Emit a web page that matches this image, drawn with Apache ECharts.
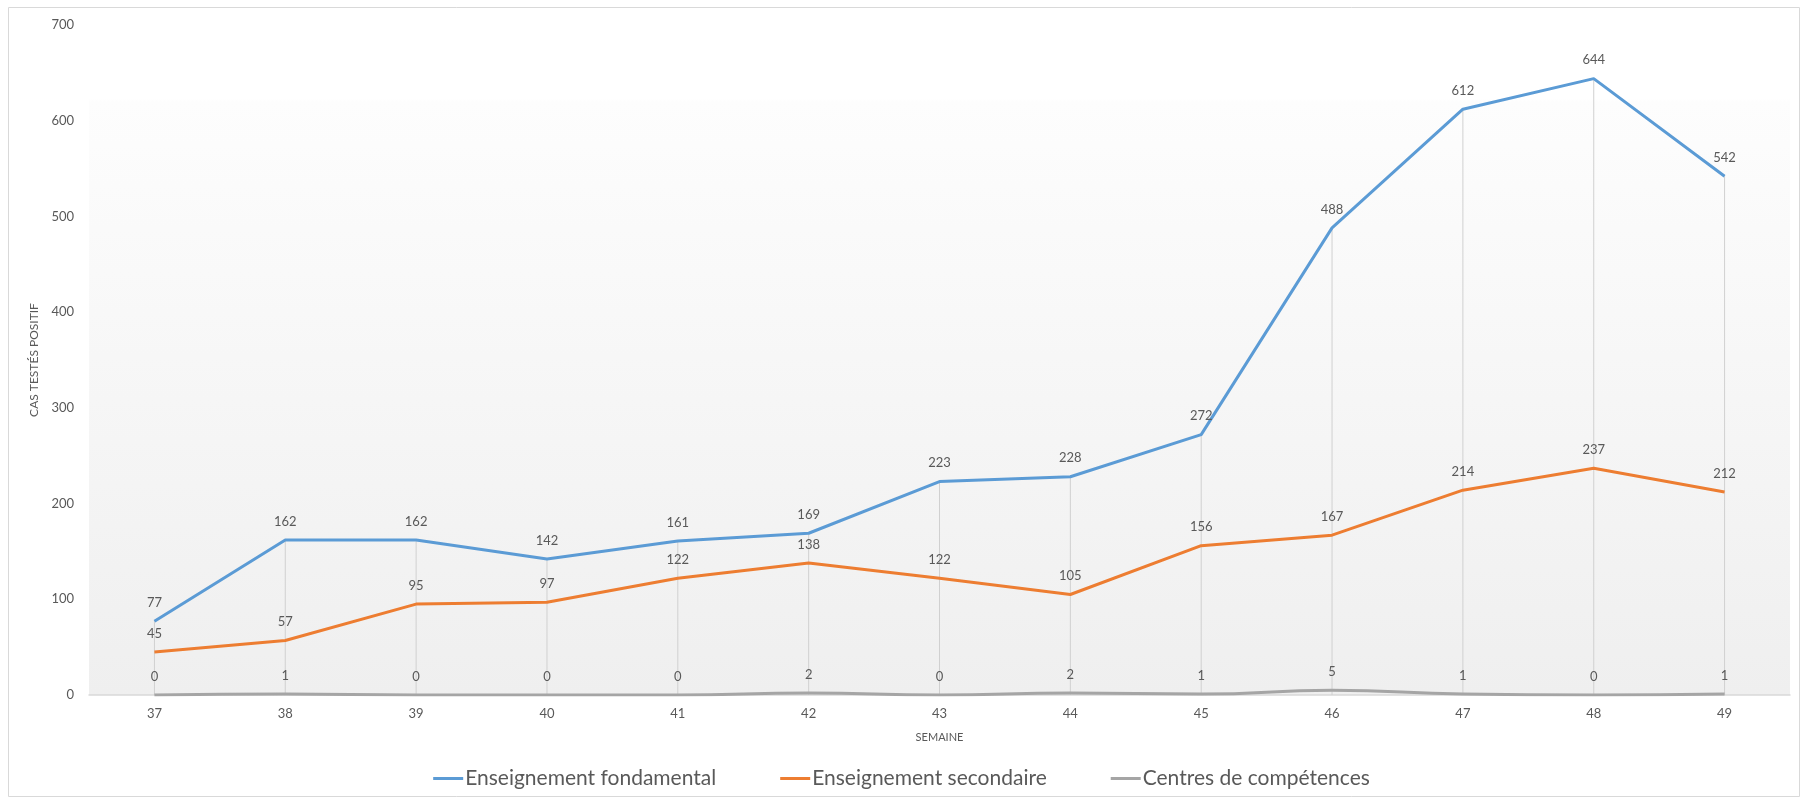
<!DOCTYPE html>
<html>
<head>
<meta charset="utf-8">
<script src="https://cdn.jsdelivr.net/npm/echarts@6/dist/echarts.min.js"></script>
<style>
  html, body { margin: 0; padding: 0; background: #fff; }
  #chart { width: 1803px; height: 799px; }
</style>
</head>
<body>
<div id="chart"></div>
<script>
// semaines
var weeks = ['37', '38', '39', '40', '41', '42', '43', '44', '45', '46', '47', '48', '49']
var fondamental = [77, 162, 162, 142, 161, 169, 223, 228, 272, 488, 612, 644, 542]
var secondaire = [45, 57, 95, 97, 122, 138, 122, 105, 156, 167, 214, 237, 212]
var competences = [0, 1, 0, 0, 0, 2, 0, 2, 1, 5, 1, 0, 1]

// lignes de projection: du point le plus haut jusqu'à l'axe
var dropLines = weeks.map(function (w, i) {
    return Math.max(fondamental[i], secondaire[i], competences[i])
})

var font = 'Lato'
var textColor = '#595959'

var chart = echarts.init(document.getElementById('chart'))

function lineSerie(name, data, color, smooth) {
    return {
        name: name,
        type: 'line',
        data: data,
        smooth: smooth,
        symbol: 'circle',
        symbolSize: 0,
        showAllSymbol: true,
        z: 3,
        lineStyle: { color: color, width: 3 },
        itemStyle: { color: color },
        label: {
            show: true,
            position: 'top',
            distance: 12,
            color: textColor,
            fontFamily: font,
            fontSize: 13
        }
    }
}

chart.setOption({
    animation: false,
    //cadre
    graphic: [{
        type: 'rect',
        shape: { x: 8.5, y: 7.5, width: 1791, height: 789 },
        style: { fill: 'none', stroke: '#d9d9d9', lineWidth: 1 },
        silent: true
    }],
    grid: {
        left: 89,
        right: 13,
        top: 25,
        bottom: 104,
        show: true,
        borderWidth: 0,
        backgroundColor: {
            type: 'linear',
            x: 0, y: 0, x2: 0, y2: 1,
            colorStops: [
                { offset: 0, color: '#ffffff' },
                { offset: 0.11, color: '#ffffff' },
                { offset: 0.115, color: '#fdfdfd' },
                { offset: 1, color: '#efefef' }
            ]
        }
    },
    legend: {
        bottom: 5,
        left: 'center',
        itemWidth: 30,
        itemHeight: 3,
        itemGap: 64,
        icon: 'rect',
        padding: [5, 0, 5, 20],
        textStyle: { color: textColor, fontFamily: font, fontSize: 21, padding: [0, 0, 0, -3] },
        data: ['Enseignement fondamental', 'Enseignement secondaire', 'Centres de compétences']
    },
    xAxis: {
        type: 'category',
        data: weeks,
        boundaryGap: true,
        name: 'SEMAINE',
        nameLocation: 'middle',
        nameGap: 37,
        nameTextStyle: { color: textColor, fontFamily: font, fontSize: 11 },
        axisLine: { lineStyle: { color: '#d9d9d9', width: 1.5 } },
        axisTick: { show: false },
        axisLabel: { color: textColor, fontFamily: font, fontSize: 13, margin: 12 }
    },
    yAxis: {
        type: 'value',
        min: 0,
        max: 700,
        interval: 100,
        name: 'CAS TESTÉS POSITIF',
        nameLocation: 'middle',
        nameGap: 36,
        nameTextStyle: { color: textColor, fontFamily: font, fontSize: 12 },
        axisLine: { show: false },
        axisTick: { show: false },
        splitLine: { show: false },
        axisLabel: { color: textColor, fontFamily: font, fontSize: 13, margin: 15 }
    },
    series: [
        {
            name: 'drop',
            type: 'bar',
            data: dropLines,
            barWidth: 1,
            silent: true,
            z: 1,
            itemStyle: { color: '#d0d0d0' },
            label: { show: false }
        },
        lineSerie('Enseignement fondamental', fondamental, '#5b9bd5', false),
        lineSerie('Enseignement secondaire', secondaire, '#ed7d31', false),
        lineSerie('Centres de compétences', competences, '#a5a5a5', true)
    ]
})
</script>
</body>
</html>
